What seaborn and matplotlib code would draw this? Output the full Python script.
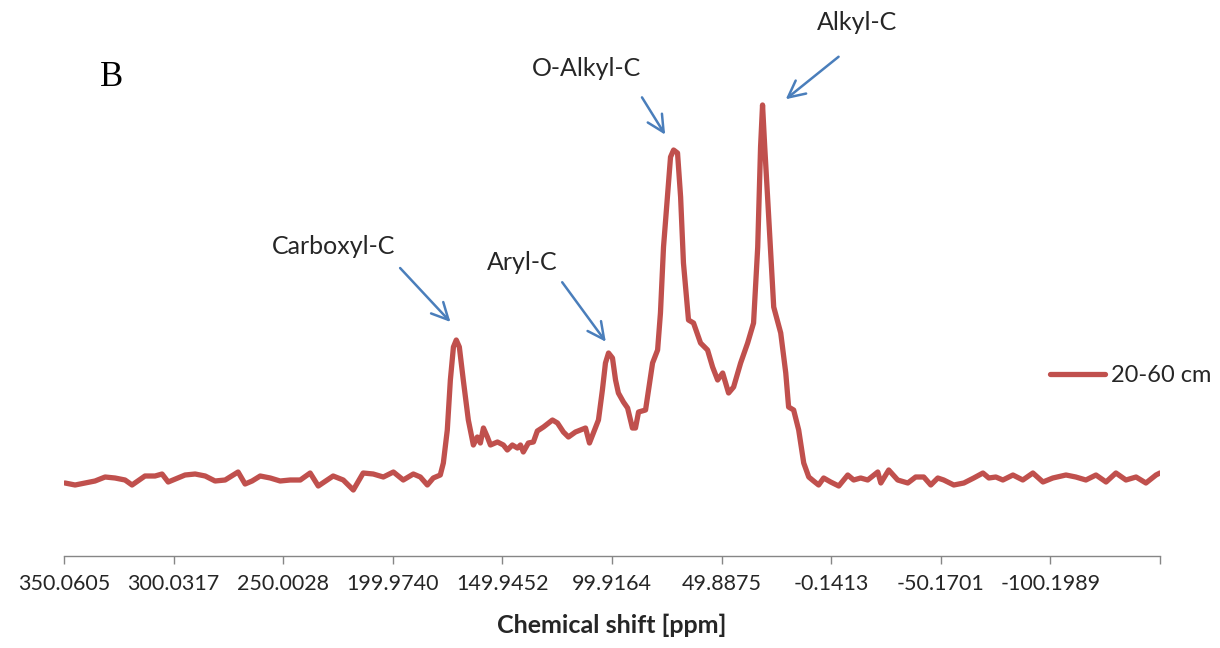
import matplotlib
matplotlib.use("Agg")
import matplotlib.pyplot as plt
import pandas as pd
import seaborn as sns

# 13C CPMAS NMR spectrum, 20-60 cm layer
ppm = [349.6, 345.0, 340.5, 335.9, 331.3, 326.8, 322.2, 319.0, 313.1, 308.5,
       305.3, 302.5, 294.8, 290.2, 285.6, 281.1, 276.5, 270.6, 267.4, 264.2,
       260.5, 255.9, 251.4, 246.8, 242.2, 237.7, 234.0, 227.2, 222.6, 218.0,
       213.5, 208.9, 204.3, 199.7, 195.2, 190.6, 187.4, 184.2, 181.5, 178.3,
       176.9, 175.1, 173.7, 172.3, 171.0, 169.6, 167.8, 165.5, 163.2, 161.4,
       160.0, 158.6, 156.8, 155.4, 152.2, 149.5, 147.7, 145.4, 143.1, 141.7,
       140.4, 138.1, 135.8, 134.0, 131.2, 127.1, 124.8, 122.1, 119.8, 116.6,
       114.3, 112.0, 110.2, 107.5, 106.1, 104.3, 102.9, 101.5, 99.7, 98.3,
       97.0, 94.7, 92.8, 90.6, 89.2, 87.8, 84.6, 81.4, 79.1, 77.8,
       76.4, 74.6, 73.2, 71.8, 70.0, 68.6, 67.3, 65.0, 62.7, 59.5,
       56.3, 54.0, 51.7, 49.4, 46.7, 44.4, 41.2, 38.0, 35.3, 33.4,
       32.1, 31.2, 30.2, 28.9, 27.5, 26.1, 22.9, 20.6, 19.3, 17.0,
       14.7, 12.4, 10.1, 7.9, 5.6, 3.3, 0.1, -3.6, -7.7, -10.4,
       -13.6, -16.8, -21.4, -22.8, -26.4, -30.5, -35.1, -38.7, -42.4, -45.6,
       -48.8, -51.5, -56.1, -60.7, -65.2, -69.4, -72.1, -75.3, -78.5, -83.1,
       -87.6, -92.2, -96.8, -101.3, -107.3, -111.8, -116.4, -121.0, -125.6, -130.1,
       -134.7, -139.3, -143.8, -148.4, -150.2]
intensity = [73, 71, 73, 75, 79, 78, 76, 71, 80, 80,
             82, 74, 81, 82, 80, 75, 76, 84, 72, 75,
             80, 78, 75, 76, 76, 83, 70, 80, 76, 66,
             83, 82, 79, 84, 76, 82, 79, 71, 78, 81,
             93, 126, 176, 209, 216, 209, 176, 136, 111, 119,
             113, 128, 119, 111, 114, 111, 106, 111, 108, 111,
             104, 113, 114, 125, 129, 136, 133, 124, 119, 124,
             126, 128, 113, 128, 136, 166, 193, 203, 198, 176,
             163, 154, 148, 128, 128, 144, 146, 193, 206, 243,
             309, 359, 399, 406, 403, 359, 293, 236, 233, 213,
             206, 189, 176, 183, 163, 169, 193, 213, 233, 309,
             409, 451, 409, 359, 303, 249, 223, 183, 149, 146,
             126, 93, 79, 75, 71, 78, 74, 70, 81, 76,
             78, 76, 84, 73, 86, 76, 73, 79, 79, 71,
             78, 76, 71, 73, 78, 83, 78, 79, 76, 81,
             76, 83, 74, 78, 81, 79, 76, 81, 74, 83,
             76, 79, 73, 81, 83]

tick_values = [350.0605, 300.0317, 250.0028, 199.9740, 149.9452, 99.9164,
               49.8875, -0.1413, -50.1701, -100.1989, -150.2277]
tick_labels = ["350.0605", "300.0317", "250.0028", "199.9740", "149.9452", "99.9164",
               "49.8875", "-0.1413", "-50.1701", "-100.1989", ""]

# peak name, arrow tip (ppm, int), arrow tail (ppm, int), text centre (ppm, int)
peak_names = ["Carboxyl-C", "Aryl-C", "O-Alkyl-C", "Alkyl-C"]
arrow_tips = [(172.8, 232), (102.0, 212), (75.0, 419), (21.6, 455)]
arrow_tails = [(197.5, 290), (123.4, 276), (86.9, 461), (-4.5, 501)]
label_pos = [(227.2, 309), (140.8, 293), (111.6, 488), (-11.8, 534)]

df = pd.DataFrame({"Chemical shift [ppm]": ppm, "Intensity": intensity})

sns.set_theme(style="white")
plt.rcParams["font.family"] = ["Lato", "DejaVu Sans"]

fig = plt.figure(figsize=(12.2, 6.48), dpi=100)
ax = fig.add_axes([64 / 1220, 92 / 648, 1096 / 1220, 556 / 648])

sns.lineplot(data=df, x="Chemical shift [ppm]", y="Intensity", sort=False,
             estimator=None, color="#C0504D", linewidth=3.8,
             label="20-60 cm", ax=ax, solid_joinstyle="round",
             solid_capstyle="round")

ax.set_xlim(350.0605, -150.2277)
ax.set_ylim(0, 556)
ax.set_xticks(tick_values)
ax.set_xticklabels(tick_labels)
ax.set_yticks([])
ax.set_ylabel("")
for s in ["top", "right", "left"]:
    ax.spines[s].set_visible(False)
ax.spines["bottom"].set_color("#868686")
ax.spines["bottom"].set_linewidth(1.0)
ax.tick_params(axis="x", bottom=True, direction="out", length=6, width=1,
               color="#868686", labelsize=15.5, labelcolor="#262626", pad=7)
ax.set_xlabel("Chemical shift [ppm]", fontsize=18, fontweight="bold",
              color="#262626", labelpad=14)

for name, tip, tail, pos in zip(peak_names, arrow_tips, arrow_tails, label_pos):
    ax.annotate("", xy=tip, xytext=tail,
                arrowprops=dict(arrowstyle="->,head_length=1.0,head_width=0.5",
                                color="#4A7EBB", lw=1.8))
    ax.text(pos[0], pos[1], name, ha="center", va="center", fontsize=18,
            color="#262626")

ax.text(0.043, 0.86, "B", transform=ax.transAxes, ha="center", va="center",
        fontsize=25, family="Liberation Serif", color="black")

ax.legend(loc="center left", bbox_to_anchor=(0.88, 0.324), frameon=False,
          fontsize=17, handlelength=2.35, handletextpad=0.25,
          labelcolor="#262626")

fig.savefig("out.png", dpi=100, facecolor="white")
